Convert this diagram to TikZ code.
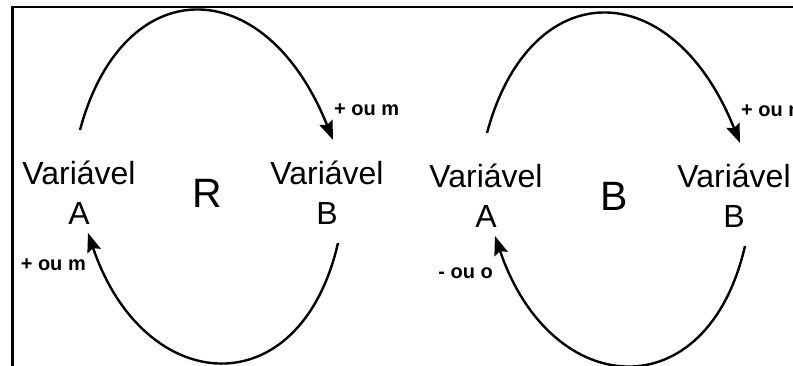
\documentclass[tikz,border=0pt]{standalone}
\usepackage{fontspec}
\setmainfont{Liberation Sans}
\usetikzlibrary{arrows.meta}
\begin{document}
\begin{tikzpicture}[x=1pt,y=-1pt,
  varnode/.style={align=center,inner sep=0pt,font=\fontsize{32}{40}\selectfont},
  loopnode/.style={inner sep=0pt,font=\fontsize{41}{48}\selectfont},
  signlbl/.style={inner sep=0pt,font=\fontsize{20}{22}\selectfont\bfseries},
  link/.style={line width=2.4pt,-{Stealth[length=19pt,width=14pt,inset=3pt]}},
  frameline/.style={line width=2.8pt},
]
\useasboundingbox (0,0) rectangle (793,366);
\clip (0,0) rectangle (793,366);
\draw[frameline] (12.5,366) -- (12.5,7) -- (793,7);
% left loop (reinforcing)
\begin{scope}
\node[varnode] (A1) at (79,193) {Variável\\A};
\node[varnode] (B1) at (327,193) {Variável\\B};
\node[loopnode] (R) at (207,193) {R};
\coordinate (A1t) at (80,130); \coordinate (B1t) at (333,140);
\coordinate (B1b) at (338,243); \coordinate (A1b) at (88,233);
\draw[link] (A1t) .. controls (123,-30) and (265,-30) .. (B1t);
\draw[link] (B1b) .. controls (300,408) and (144,398) .. (A1b);
\node[signlbl,anchor=west] (s1) at (334,110) {+ ou m};
\node[signlbl,anchor=east] (s2) at (86,265) {+ ou m};
\end{scope}
% right loop (balancing)
\begin{scope}[shift={(407,3)}]
\node[varnode] (A2) at (79,193) {Variável\\A};
\node[varnode] (B2) at (327,193) {Variável\\B};
\node[loopnode] (Bl) at (207,193) {B};
\coordinate (A2t) at (80,130); \coordinate (B2t) at (333,140);
\coordinate (B2b) at (338,243); \coordinate (A2b) at (88,233);
\draw[link] (A2t) .. controls (123,-30) and (265,-30) .. (B2t);
\draw[link] (B2b) .. controls (300,408) and (144,398) .. (A2b);
\node[signlbl,anchor=west] (s3) at (334,108) {+ ou m};
\node[signlbl,anchor=east] (s4) at (86,270) {- ou o};
\end{scope}
\end{tikzpicture}
\end{document}
